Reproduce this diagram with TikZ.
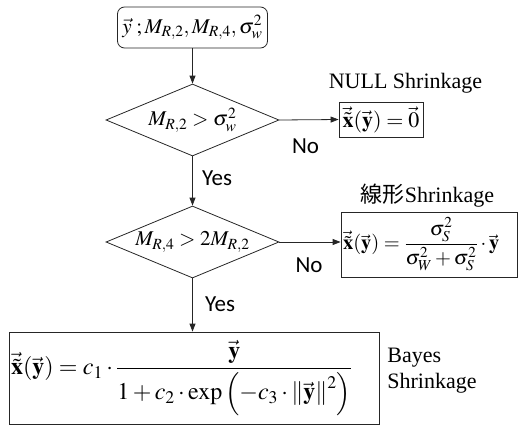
\documentclass[tikz,border=0pt]{standalone}
\usepackage{amsmath}
\usepackage{mathptmx}
\usepackage{fontspec}
\setmainfont{Liberation Serif}
\newfontfamily\sansf{Carlito}
\newfontfamily\cjkf{Noto Sans CJK JP}
\usetikzlibrary{shapes.geometric,arrows.meta}
\begin{document}
\begin{tikzpicture}[x=1pt,y=-1pt,
  line width=0.8pt,
  draw=black!85,
  conn/.style={draw=black!85,-{Triangle[length=8pt,width=6pt]}},
  decision/.style={draw, diamond, minimum width=173pt, minimum height=72pt, inner sep=0pt, font=\fontsize{21}{25}\selectfont},
  boxed/.style={draw, rectangle, inner sep=1pt, font=\fontsize{22}{26}\selectfont},
  lbl/.style={font=\fontsize{23}{27}\sansf, inner sep=0pt},
  caption/.style={font=\fontsize{22}{26}\selectfont, inner sep=0pt}
]
\useasboundingbox (0,0) rectangle (518,426);
\node[draw, rounded corners=7pt, minimum width=150pt, minimum height=41pt, inner sep=0pt, font=\fontsize{21}{25}\selectfont] (in) at (192.5,27.5) {$\vec{y}\;;M_{R,2},M_{R,4},\sigma_w^2$};
\node[decision] (d1) at (192.5,120) {\makebox[0pt]{$M_{R,2}>\sigma_w^2$}};
\node[decision] (d2) at (192.5,242) {\makebox[0pt]{$M_{R,4}>2M_{R,2}$}};
\node[boxed, minimum width=84pt, minimum height=35pt] (null) at (381,119.5) {$\vec{\tilde{\mathbf{x}}}(\vec{\mathbf{y}})=\vec{0}$};
\node[boxed, minimum width=176pt, minimum height=65pt, font=\fontsize{20.5}{24}\selectfont] (lin) at (429,244.5) {\makebox[172pt][l]{$\vec{\tilde{\mathbf{x}}}(\vec{\mathbf{y}})=\dfrac{\sigma_S^2}{\sigma_W^2+\sigma_S^2}\cdot\vec{\mathbf{y}}$}};
\node[boxed, minimum width=370pt, minimum height=92pt, font=\fontsize{24}{28}\selectfont] (bay) at (194,378) {\makebox[366pt][l]{$\vec{\tilde{\mathbf{x}}}(\vec{\mathbf{y}})=c_1\cdot\dfrac{\vec{\mathbf{y}}}{1+c_2\cdot\exp\left(-c_3\cdot\left\|\vec{\mathbf{y}}\right\|^2\right)}$}};
\draw[conn] (in.south) -- (d1.north);
\draw[conn] (d1.south) -- (d2.north);
\draw[conn] (d2.south) -- (d2.south |- bay.north);
\draw[conn] (d1.east) -- (null.west);
\draw[conn] (d2.east) -- (d2.east -| lin.west);
\node[lbl] (no1) at (305.5,146) {No};
\node[lbl] (yes1) at (217,178) {Yes};
\node[lbl] (no2) at (309,265.5) {No};
\node[lbl] (yes2) at (220,304.5) {Yes};
\node[caption, anchor=base] (capnull) at (405.5,88) {NULL Shrinkage};
\node[caption, anchor=base] (caplin) at (427.5,202) {{\cjkf 線形}Shrinkage};
\node[caption, anchor=base west] (capbay1) at (387,362) {Bayes};
\node[caption, anchor=base west] (capbay2) at (387,388) {Shrinkage};
\end{tikzpicture}
\end{document}
